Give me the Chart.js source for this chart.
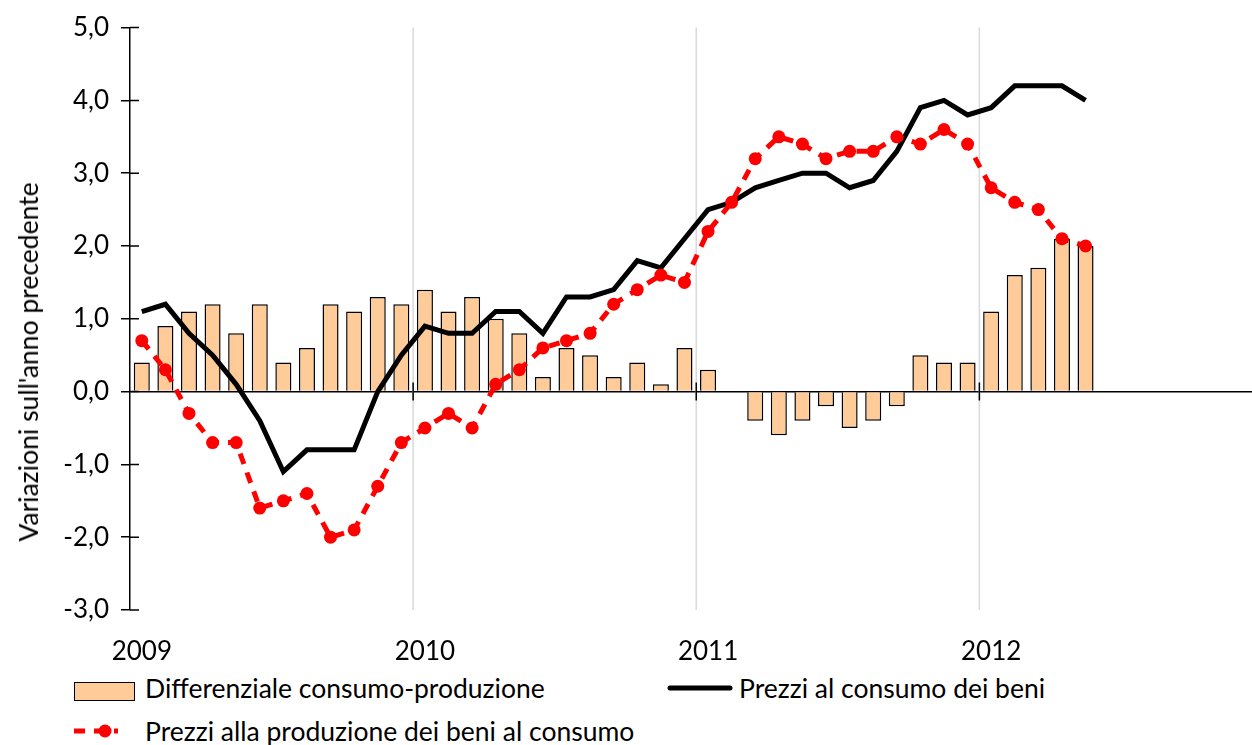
<!DOCTYPE html>
<html>
<head>
<meta charset="utf-8">
<script src="https://cdn.jsdelivr.net/npm/chart.js@4.4.0/dist/chart.umd.min.js"></script>
<style>
  html, body { margin: 0; padding: 0; background: #fff; overflow: hidden; }
  #wrap { position: relative; width: 1275px; height: 745px; font-family: Lato, sans-serif; color: #000; }
  #grafico { position: absolute; left: 0; top: 0; }
  #titoloY { position: absolute; left: 28px; top: 362px; font-size: 26.5px; white-space: nowrap;
             transform: translate(-50%, -50%) rotate(-90deg); }
  .voce { position: absolute; font-size: 26.5px; white-space: nowrap; line-height: 30px; }
</style>
</head>
<body>
<div id="wrap">
  <canvas id="grafico" width="1269" height="665" style="width:1269px;height:665px"></canvas>
  <div id="titoloY">Variazioni sull'anno precedente</div>

  <!-- legenda -->
  <div class="voce" style="left:74px; top:673px;">
    <span style="display:inline-block; width:61px; height:19px; background:#FFCC99; border:1.5px solid #000; vertical-align:middle; box-sizing:border-box;"></span>
  </div>
  <div class="voce" style="left:145px; top:673px;">Differenziale consumo-produzione</div>

  <div class="voce" style="left:667px; top:673px;">
    <svg width="66" height="30"><line x1="3" y1="15" x2="63" y2="15" stroke="#000" stroke-width="5" stroke-linecap="round"/></svg>
  </div>
  <div class="voce" style="left:739px; top:673px;">Prezzi al consumo dei beni</div>

  <div class="voce" style="left:74px; top:716px;">
    <svg width="46" height="30"><line x1="0" y1="15" x2="44" y2="15" stroke="#f00" stroke-width="5" stroke-dasharray="11 9"/><circle cx="31" cy="15" r="6.5" fill="#f00"/></svg>
  </div>
  <div class="voce" style="left:145px; top:716px;">Prezzi alla produzione dei beni al consumo</div>
</div>

<script>
// mesi da gennaio 2009 a maggio 2012
const mesi = [
  "gen 2009","feb 2009","mar 2009","apr 2009","mag 2009","giu 2009","lug 2009","ago 2009","set 2009","ott 2009","nov 2009","dic 2009",
  "gen 2010","feb 2010","mar 2010","apr 2010","mag 2010","giu 2010","lug 2010","ago 2010","set 2010","ott 2010","nov 2010","dic 2010",
  "gen 2011","feb 2011","mar 2011","apr 2011","mag 2011","giu 2011","lug 2011","ago 2011","set 2011","ott 2011","nov 2011","dic 2011",
  "gen 2012","feb 2012","mar 2012","apr 2012","mag 2012"
];
const anni = ["2009", "2010", "2011", "2012"];

const differenziale = [
  0.4, 0.9, 1.1, 1.2, 0.8, 1.2, 0.4, 0.6, 1.2, 1.1, 1.3, 1.2,
  1.4, 1.1, 1.3, 1.0, 0.8, 0.2, 0.6, 0.5, 0.2, 0.4, 0.1, 0.6,
  0.3, 0.0, -0.4, -0.6, -0.4, -0.2, -0.5, -0.4, -0.2, 0.5, 0.4, 0.4,
  1.1, 1.6, 1.7, 2.1, 2.0
];
const prezziConsumo = [
  1.1, 1.2, 0.8, 0.5, 0.1, -0.4, -1.1, -0.8, -0.8, -0.8, 0.0, 0.5,
  0.9, 0.8, 0.8, 1.1, 1.1, 0.8, 1.3, 1.3, 1.4, 1.8, 1.7, 2.1,
  2.5, 2.6, 2.8, 2.9, 3.0, 3.0, 2.8, 2.9, 3.3, 3.9, 4.0, 3.8,
  3.9, 4.2, 4.2, 4.2, 4.0
];
const prezziProduzione = [
  0.7, 0.3, -0.3, -0.7, -0.7, -1.6, -1.5, -1.4, -2.0, -1.9, -1.3, -0.7,
  -0.5, -0.3, -0.5, 0.1, 0.3, 0.6, 0.7, 0.8, 1.2, 1.4, 1.6, 1.5,
  2.2, 2.6, 3.2, 3.5, 3.4, 3.2, 3.3, 3.3, 3.5, 3.4, 3.6, 3.4,
  2.8, 2.6, 2.5, 2.1, 2.0
];

// ogni mese sta al centro del suo intervallo sull'asse lineare
function punti(serie) {
  return serie.map((v, i) => ({ x: i + 0.5, y: v }));
}

// griglia degli anni (tra dicembre e gennaio), tacche sullo zero e tacche dell'asse y
const griglia = {
  id: "griglia",
  beforeDatasetsDraw(chart) {
    const ctx = chart.ctx;
    const x = chart.scales.x;
    const area = chart.chartArea;
    ctx.save();
    ctx.strokeStyle = "#d9d9d9";
    ctx.lineWidth = 1.5;
    ctx.beginPath();
    anni.forEach((a, i) => {
      if (i === 0) return;
      const px = x.getPixelForValue(i * 12);
      ctx.moveTo(px, area.top);
      ctx.lineTo(px, area.bottom);
    });
    ctx.stroke();
    ctx.restore();
  },
  afterDraw(chart) {
    const ctx = chart.ctx;
    const x = chart.scales.x;
    const y = chart.scales.y;
    const y0 = y.getPixelForValue(0);
    ctx.save();
    ctx.strokeStyle = "#000";
    ctx.lineWidth = 1.5;
    ctx.beginPath();
    anni.forEach((a, i) => {
      if (i === 0) return;
      const px = x.getPixelForValue(i * 12);
      ctx.moveTo(px, y0 - 9);
      ctx.lineTo(px, y0 + 9);
    });
    y.ticks.forEach((t) => {
      const py = y.getPixelForValue(t.value);
      ctx.moveTo(x.left, py);
      ctx.lineTo(x.left + 9, py);
    });
    ctx.stroke();
    ctx.restore();
  },
};

const FONT = { family: "Lato", size: 26 };

new Chart(document.getElementById("grafico"), {
  type: "bar",
  data: {
    labels: mesi,
    datasets: [
      {
        type: "line",
        label: "Prezzi alla produzione dei beni al consumo",
        data: punti(prezziProduzione),
        borderColor: "#ff0000",
        backgroundColor: "#ff0000",
        borderWidth: 5,
        borderDash: [11, 9],
        pointRadius: 6.5,
        pointBorderWidth: 0,
        tension: 0,
        order: 0,
      },
      {
        type: "line",
        label: "Prezzi al consumo dei beni",
        data: punti(prezziConsumo),
        borderColor: "#000",
        borderWidth: 5,
        pointRadius: 0,
        tension: 0,
        order: 1,
      },
      {
        type: "bar",
        label: "Differenziale consumo-produzione",
        data: punti(differenziale),
        backgroundColor: "#FFCC99",
        borderColor: "#000",
        borderWidth: 1.5,
        barPercentage: 0.68,
        categoryPercentage: 1,
        order: 2,
      },
    ],
  },
  options: {
    responsive: false,
    animation: false,
    layout: { padding: { top: 24.4, left: 0, right: 0, bottom: 0 } },
    plugins: {
      legend: { display: false },
      tooltip: { enabled: false },
    },
    scales: {
      x: {
        type: "linear",
        min: 0,
        max: 48,
        offset: false,
        // etichette dell'anno sul primo mese (gennaio)
        afterBuildTicks: (scale) => {
          scale.ticks = anni.map((a, i) => ({ value: i * 12 + 0.5 }));
        },
        afterFit: (scale) => {
          scale.height = 55;
        },
        border: { display: false },
        grid: { display: false, drawTicks: false },
        ticks: {
          color: "#000",
          font: FONT,
          padding: 26,
          maxRotation: 0,
          callback: (v) => anni[Math.floor(v / 12)],
        },
      },
      y: {
        min: -3,
        max: 5,
        afterFit: (scale) => {
          scale.width = 130;
        },
        border: { display: true, color: "#000", width: 1.5 },
        grid: {
          color: (c) => (c.tick && c.tick.value === 0 ? "#000" : "transparent"),
          tickColor: "#000",
          tickLength: 9,
          lineWidth: 1.5,
        },
        ticks: {
          stepSize: 1,
          color: "#000",
          font: FONT,
          padding: 12,
          callback: (v) => v.toFixed(1).replace(".", ","),
        },
      },
    },
  },
  plugins: [griglia],
});
</script>
</body>
</html>
